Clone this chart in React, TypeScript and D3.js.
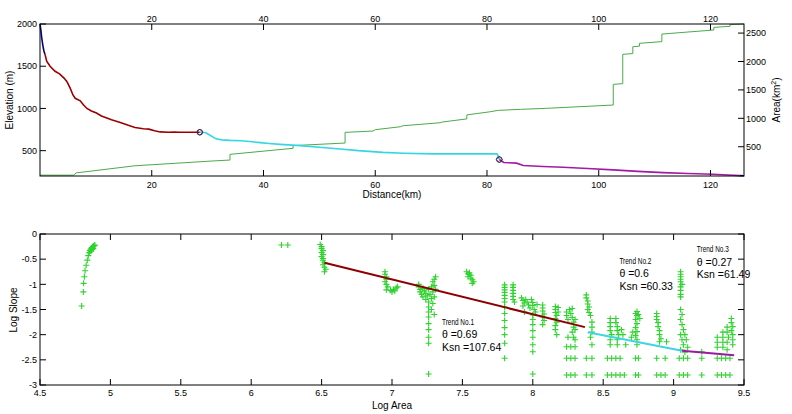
import React from "react";
import * as d3 from "d3";

// ---------- Top panel data (distance km, elevation m / area km2) ----------
const elevHead: [number, number][] = [[0, 2000], [0.15, 1930], [0.3, 1840], [0.5, 1750], [0.7, 1680], [0.9, 1640]];
const elevSeg1: [number, number][] = [
  [0.9, 1640], [1.2, 1560], [1.8, 1500], [2.7, 1440], [3.5, 1410], [4.3, 1360], [4.8, 1320], [5.4, 1240],
  [5.9, 1160], [6.3, 1120], [7.2, 1090], [7.8, 1040], [8.4, 1000], [9.2, 970], [10.1, 945], [11, 910],
  [12.8, 865], [14.5, 830], [15.8, 800], [17, 775], [18.5, 760], [19.5, 755], [20.5, 735], [21.5, 722],
  [23, 718], [24, 720], [25, 718], [27, 718], [28.6, 718]];
const elevSeg2: [number, number][] = [
  [28.6, 718], [29.6, 715], [30.5, 680], [31.5, 640], [32.5, 628], [34, 622], [36, 618], [38, 605],
  [39.4, 595], [41, 585], [43, 575], [46.6, 560], [50, 540], [53.7, 520], [57, 500], [61.4, 480],
  [65, 470], [70.4, 462], [75, 462], [81.8, 462], [82.0, 440], [82.2, 395]];
const elevSeg3: [number, number][] = [
  [82.2, 395], [83, 360], [85.3, 352], [86.5, 325], [90, 312], [93.6, 303], [98, 288], [102.6, 272],
  [107, 255], [111.5, 240], [116, 230], [120.5, 220], [124.1, 209], [125.2, 205]];
const elevTail: [number, number][] = [[125.2, 205], [126, 203]];
const knickpoints: [number, number][] = [[28.6, 718], [82.2, 395]];
const areaProfile: [number, number][] = [
  [0, 0], [6, 0], [6.5, 40], [17, 165], [31, 250], [34, 266], [34, 366], [45.3, 472], [45.3, 520],
  [54.6, 565], [54.6, 753], [59.6, 776], [60, 800], [64.5, 852], [65, 870], [71.6, 922], [72, 935],
  [76.4, 990], [76.4, 1060], [80.6, 1116], [82, 1140], [86, 1158], [90.7, 1176], [102.6, 1234],
  [102.6, 1598], [104.3, 1610], [104.3, 2126], [106.1, 2140], [106.1, 2260], [107.3, 2270],
  [107.3, 2320], [111.3, 2350], [111.3, 2483], [120.6, 2554], [120.6, 2600], [123.5, 2620],
  [123.5, 2650], [126, 2660]];
const distTicks = [20, 40, 60, 80, 100, 120];
const elevTicks = [500, 1000, 1500, 2000];
const areaTicks = [500, 1000, 1500, 2000, 2500];

// ---------- Bottom panel data (log area, log slope) ----------
const slopeAreaPoints: [number, number][] = [
  [4.796, -1.43], [4.808, -1.15], [4.81, -0.98], [4.815, -0.85], [4.82, -0.73], [4.828, -0.62], [4.836, -0.52],
  [4.843, -0.43], [4.85, -0.37], [4.855, -0.33], [4.86, -0.30], [4.865, -0.28], [4.87, -0.27], [4.875, -0.25],
  [4.88, -0.24], [4.885, -0.23], [4.89, -0.22], [4.862, -0.34], [4.87, -0.31], [4.878, -0.29],
  [6.215, -0.22], [6.26, -0.22],
  [6.49, -0.21], [6.50, -0.25], [6.50, -0.29], [6.51, -0.33], [6.50, -0.37], [6.51, -0.41], [6.50, -0.45],
  [6.51, -0.49], [6.51, -0.53], [6.52, -0.57], [6.51, -0.61], [6.52, -0.66], [6.53, -0.70], [6.52, -0.75],
  [6.95, -0.75], [6.95, -0.80], [6.96, -0.85], [6.96, -0.90], [6.95, -0.95], [6.96, -1.00], [6.97, -1.05],
  [6.96, -1.11], [6.99, -1.12], [7.01, -1.10], [7.03, -1.07], [7.04, -1.05], [7.02, -1.13], [7.00, -1.15],
  [7.19, -1.0], [7.19, -1.05], [7.2, -1.1], [7.2, -1.15], [7.21, -1.2], [7.22, -1.08], [7.23, -1.13],
  [7.22, -1.25], [7.24, -1.18], [7.24, -1.3], [7.25, -1.23], [7.26, -1.1], [7.26, -1.35], [7.26, -1.45],
  [7.26, -1.55], [7.26, -1.65], [7.26, -1.78], [7.26, -1.9], [7.26, -2.05], [7.26, -2.17], [7.26, -2.78],
  [7.27, -1.2], [7.28, -1.05], [7.28, -1.28], [7.29, -1.15], [7.29, -0.95], [7.30, -0.9], [7.30, -1.02],
  [7.31, -0.85], [7.31, -1.1], [7.3, -1.25], [7.29, -1.38], [7.28, -1.5], [7.3, -1.6],
  [7.53, -0.75], [7.54, -0.79], [7.55, -0.77], [7.56, -0.82], [7.54, -0.85], [7.56, -0.88], [7.57, -0.91],
  [7.58, -0.95], [7.57, -0.98], [7.55, -0.8],
  [7.80, -1.01], [7.80, -1.06], [7.80, -1.11], [7.80, -1.16], [7.80, -1.22], [7.80, -1.28], [7.80, -1.35],
  [7.80, -1.45], [7.80, -1.58], [7.80, -1.72], [7.80, -1.86], [7.80, -2.0], [7.80, -2.17], [7.80, -2.47],
  [7.86, -1.01], [7.86, -1.06], [7.86, -1.12], [7.86, -1.18], [7.86, -1.24], [7.86, -1.3], [7.87, -1.35],
  [7.92, -1.27], [7.93, -1.32], [7.94, -1.37], [7.93, -1.43], [7.95, -1.3], [7.96, -1.35], [7.97, -1.41],
  [7.98, -1.47], [7.99, -1.30], [8.0, -1.36], [8.0, -1.42], [8.01, -1.5], [8.02, -1.55], [8.0, -1.61],
  [8.0, -1.7], [8.0, -1.8], [8.0, -1.92], [8.0, -2.05], [8.0, -2.2], [8.0, -2.34], [8.0, -2.78],
  [7.94, -1.55], [8.03, -1.4],
  [8.07, -1.41], [8.07, -1.47], [8.07, -1.53], [8.08, -1.59], [8.07, -1.65], [8.08, -1.72], [8.07, -1.8],
  [8.16, -1.44], [8.16, -1.5], [8.16, -1.56], [8.17, -1.62], [8.16, -1.68], [8.17, -1.75], [8.16, -1.82],
  [8.16, -1.9], [8.17, -2.0], [8.18, -1.46], [8.18, -1.55],
  [8.24, -1.55], [8.24, -1.62], [8.25, -1.7], [8.26, -1.5], [8.27, -1.58], [8.28, -1.48], [8.28, -1.66],
  [8.29, -1.75], [8.29, -1.85], [8.28, -1.95], [8.29, -2.05], [8.3, -2.1], [8.25, -2.05], [8.24, -2.24],
  [8.27, -2.24], [8.3, -2.24], [8.24, -2.47], [8.27, -2.47], [8.3, -2.47], [8.24, -2.8], [8.27, -2.8],
  [8.3, -2.8], [8.3, -1.7], [8.3, -1.9],
  [8.38, -1.21], [8.38, -1.27], [8.39, -1.33], [8.39, -1.39], [8.4, -1.45], [8.39, -1.5], [8.4, -1.56],
  [8.41, -1.62], [8.42, -1.75], [8.42, -1.85], [8.42, -1.95], [8.41, -2.05], [8.42, -2.2], [8.38, -2.47],
  [8.42, -2.47], [8.38, -2.8], [8.42, -2.8],
  [8.55, -1.68], [8.55, -1.76], [8.55, -1.84], [8.55, -1.92], [8.56, -2.0], [8.55, -2.1], [8.55, -2.2],
  [8.59, -1.68], [8.59, -1.76], [8.6, -1.84], [8.6, -1.92], [8.61, -2.0], [8.6, -2.1], [8.6, -2.2],
  [8.63, -1.9], [8.64, -2.0], [8.53, -2.47], [8.56, -2.47], [8.59, -2.47], [8.62, -2.47], [8.53, -2.8],
  [8.56, -2.8], [8.59, -2.8], [8.62, -2.8], [8.65, -2.8], [8.66, -2.2],
  [8.73, -1.58], [8.74, -1.54], [8.74, -1.62], [8.73, -1.7], [8.74, -1.78], [8.73, -1.86], [8.74, -1.94],
  [8.73, -2.02], [8.74, -2.1], [8.74, -2.2], [8.75, -1.6], [8.76, -1.68], [8.71, -1.95], [8.7, -2.05],
  [8.73, -2.47], [8.75, -2.47], [8.73, -2.8], [8.75, -2.8],
  [8.88, -1.58], [8.88, -1.64], [8.88, -1.7], [8.89, -1.76], [8.89, -1.84], [8.9, -1.92], [8.9, -2.0],
  [8.91, -2.08], [8.9, -2.14], [8.95, -2.14], [8.88, -2.47], [8.94, -2.47], [8.88, -2.8], [8.91, -2.8],
  [8.94, -2.8],
  [9.05, -0.75], [9.05, -0.8], [9.05, -0.85], [9.05, -0.9], [9.05, -0.95], [9.06, -1.0], [9.05, -1.05],
  [9.05, -1.12], [9.05, -1.2], [9.05, -1.25], [9.05, -1.5], [9.06, -1.6], [9.05, -1.7], [9.06, -1.8],
  [9.07, -1.9], [9.05, -2.0], [9.06, -2.1], [9.07, -2.2], [9.05, -2.3], [9.08, -2.35], [9.1, -2.25],
  [9.09, -2.1], [9.08, -2.0], [9.04, -2.47], [9.07, -2.47], [9.1, -2.47], [9.04, -2.8], [9.07, -2.8],
  [9.1, -2.8],
  [9.2, -2.34], [9.2, -2.47], [9.2, -2.8],
  [9.31, -2.05], [9.31, -2.15], [9.31, -2.25], [9.35, -1.95], [9.35, -2.05], [9.35, -2.15], [9.35, -2.25],
  [9.38, -1.85], [9.38, -1.95], [9.39, -2.05], [9.38, -2.15], [9.38, -2.3], [9.41, -1.68], [9.41, -1.76],
  [9.42, -1.84], [9.41, -1.92], [9.42, -2.0], [9.42, -2.1], [9.42, -2.2], [9.31, -2.47], [9.34, -2.47],
  [9.37, -2.47], [9.4, -2.47], [9.31, -2.8], [9.34, -2.8], [9.37, -2.8], [9.4, -2.8]];
const trend1: [number, number][] = [[6.52, -0.57], [8.37, -1.85]];
const trend2: [number, number][] = [[8.39, -1.95], [9.06, -2.32]];
const trend3: [number, number][] = [[9.06, -2.32], [9.43, -2.41]];
const trendTitles = ["Trend No.1", "Trend No.2", "Trend No.3"];
const trendThetas = ["θ =0.69", "θ =0.6", "θ =0.27"];
const trendKsn = ["Ksn =107.64", "Ksn =60.33", "Ksn =61.49"];
const trendLabelAnchor: [number, number][] = [[7.355, -1.80], [8.615, -0.59], [9.165, -0.36]];
const logAreaTicks = [4.5, 5, 5.5, 6, 6.5, 7, 7.5, 8, 8.5, 9, 9.5];
const logAreaLabels = ["4.5", "5", "5.5", "6", "6.5", "7", "7.5", "8", "8.5", "9", "9.5"];
const logSlopeTicks = [0, -0.5, -1, -1.5, -2, -2.5, -3];
const logSlopeLabels = ["0", "-0.5", "-1", "-1.5", "-2", "-2.5", "-3"];

const FONT = "'Liberation Sans', Arial, sans-serif";

export default function App() {
  // top panel
  const L = 40, R = 744, T1 = 24, B1 = 176;
  const xD = d3.scaleLinear().domain([0, 126]).range([L, R]);
  const yE = d3.scaleLinear().domain([200, 2000]).range([B1, T1]);
  const yA = d3.scaleLinear().domain([-15, 2660]).range([B1, T1]);
  const lineE = d3.line<[number, number]>().x(d => xD(d[0])).y(d => yE(d[1]));
  const lineA = d3.line<[number, number]>().x(d => xD(d[0])).y(d => yA(d[1]));

  // bottom panel
  const T2 = 234, B2 = 385;
  const xL = d3.scaleLinear().domain([4.5, 9.5]).range([L, R]);
  const yS = d3.scaleLinear().domain([-3, 0]).range([B2, T2]);
  const lineS = d3.line<[number, number]>().x(d => xL(d[0])).y(d => yS(d[1]));

  const tk = 6;
  const green = "#2fd22f";

  return (
    <svg width={792} height={414} style={{ position: "absolute", left: 0, top: 0, background: "#fff" }} fontFamily={FONT}>
      <rect x={0} y={0} width={792} height={414} fill="#fff" />
      {/* ---------- Top panel ---------- */}
      <path d={lineA(areaProfile) || ""} fill="none" stroke="#4aab4a" strokeWidth={1} />
      <path d={lineE(elevHead) || ""} fill="none" stroke="#00007a" strokeWidth={1.6} />
      <path d={lineE(elevSeg1) || ""} fill="none" stroke="#9a0000" strokeWidth={1.6} />
      <path d={lineE(elevSeg2) || ""} fill="none" stroke="#35d6e2" strokeWidth={1.6} />
      <path d={lineE(elevSeg3) || ""} fill="none" stroke="#a419a8" strokeWidth={1.6} />
      <path d={lineE(elevTail) || ""} fill="none" stroke="#00007a" strokeWidth={1.6} />
      {knickpoints.map((p, i) => (
        <g key={i}>
          <circle cx={xD(p[0])} cy={yE(p[1])} r={2.8} fill="none" stroke="#40204a" strokeWidth={1} />
          <path d={`M${xD(p[0]) - 3},${yE(p[1])}L${xD(p[0])},${yE(p[1]) - 3}L${xD(p[0]) + 3},${yE(p[1])}L${xD(p[0])},${yE(p[1]) + 3}Z`} fill="none" stroke="#40204a" strokeWidth={0.8} />
        </g>
      ))}
      <rect x={L} y={T1} width={R - L} height={B1 - T1} fill="none" stroke="#000" strokeWidth={1} />
      {distTicks.map(t => (
        <g key={"dt" + t}>
          <line x1={xD(t)} x2={xD(t)} y1={B1} y2={B1 - tk} stroke="#000" />
          <line x1={xD(t)} x2={xD(t)} y1={T1} y2={T1 + tk} stroke="#000" />
          <text x={xD(t)} y={188} fontSize={9} textAnchor="middle">{t}</text>
          <text x={xD(t)} y={22} fontSize={9} textAnchor="middle">{t}</text>
        </g>
      ))}
      {elevTicks.map(t => (
        <g key={"et" + t}>
          <line x1={L} x2={L + tk} y1={yE(t)} y2={yE(t)} stroke="#000" />
          <text x={37} y={yE(t) + 3.2} fontSize={9} textAnchor="end">{t}</text>
        </g>
      ))}
      {areaTicks.map(t => (
        <g key={"at" + t}>
          <line x1={R} x2={R - tk} y1={yA(t)} y2={yA(t)} stroke="#000" />
          <text x={746} y={yA(t) + 3.2} fontSize={9} textAnchor="start">{t}</text>
        </g>
      ))}
      <text x={392} y={198} fontSize={10} textAnchor="middle">Distance(km)</text>
      <text transform="translate(13,100) rotate(-90)" fontSize={10} textAnchor="middle">Elevation (m)</text>
      <text transform="translate(780,100) rotate(-90)" fontSize={10} textAnchor="middle">
        Area(km<tspan fontSize={7} dy={-4}>2</tspan><tspan dy={4}>)</tspan>
      </text>

      {/* ---------- Bottom panel ---------- */}
      {slopeAreaPoints.map((p, i) => {
        const cx = xL(p[0]), cy = yS(p[1]);
        return <path key={"p" + i} d={`M${cx - 3},${cy}h6M${cx},${cy - 3}v6`} stroke={green} strokeWidth={1.1} fill="none" />;
      })}
      <path d={lineS(trend1) || ""} fill="none" stroke="#8e0000" strokeWidth={2} />
      <path d={lineS(trend2) || ""} fill="none" stroke="#3fd3e6" strokeWidth={2} />
      <path d={lineS(trend3) || ""} fill="none" stroke="#9a1c9e" strokeWidth={2} />
      <rect x={L} y={T2} width={R - L} height={B2 - T2} fill="none" stroke="#000" strokeWidth={1} />
      {logAreaTicks.map((t, i) => (
        <g key={"la" + t}>
          <line x1={xL(t)} x2={xL(t)} y1={B2} y2={B2 - tk} stroke="#000" />
          <line x1={xL(t)} x2={xL(t)} y1={T2} y2={T2 + tk} stroke="#000" />
          <text x={xL(t)} y={396} fontSize={9} textAnchor="middle">{logAreaLabels[i]}</text>
        </g>
      ))}
      {logSlopeTicks.map((t, i) => (
        <g key={"ls" + t}>
          <line x1={L} x2={L + tk} y1={yS(t)} y2={yS(t)} stroke="#000" />
          <line x1={R} x2={R - tk} y1={yS(t)} y2={yS(t)} stroke="#000" />
          <text x={37} y={yS(t) + 3.2} fontSize={9} textAnchor="end">{logSlopeLabels[i]}</text>
        </g>
      ))}
      <text x={392} y={409} fontSize={10} textAnchor="middle">Log Area</text>
      <text transform="translate(17,310) rotate(-90)" fontSize={10} textAnchor="middle">Log Slope</text>
      {trendTitles.map((t, i) => {
        const x = xL(trendLabelAnchor[i][0]);
        const y = yS(trendLabelAnchor[i][1]);
        return (
          <g key={"tr" + i}>
            <text x={x} y={y} fontSize={9} textLength={32} lengthAdjust="spacingAndGlyphs">{t}</text>
            <text x={x} y={y + 13.5} fontSize={10.5}>{trendThetas[i]}</text>
            <text x={x} y={y + 26} fontSize={10.5}>{trendKsn[i]}</text>
          </g>
        );
      })}
    </svg>
  );
}
